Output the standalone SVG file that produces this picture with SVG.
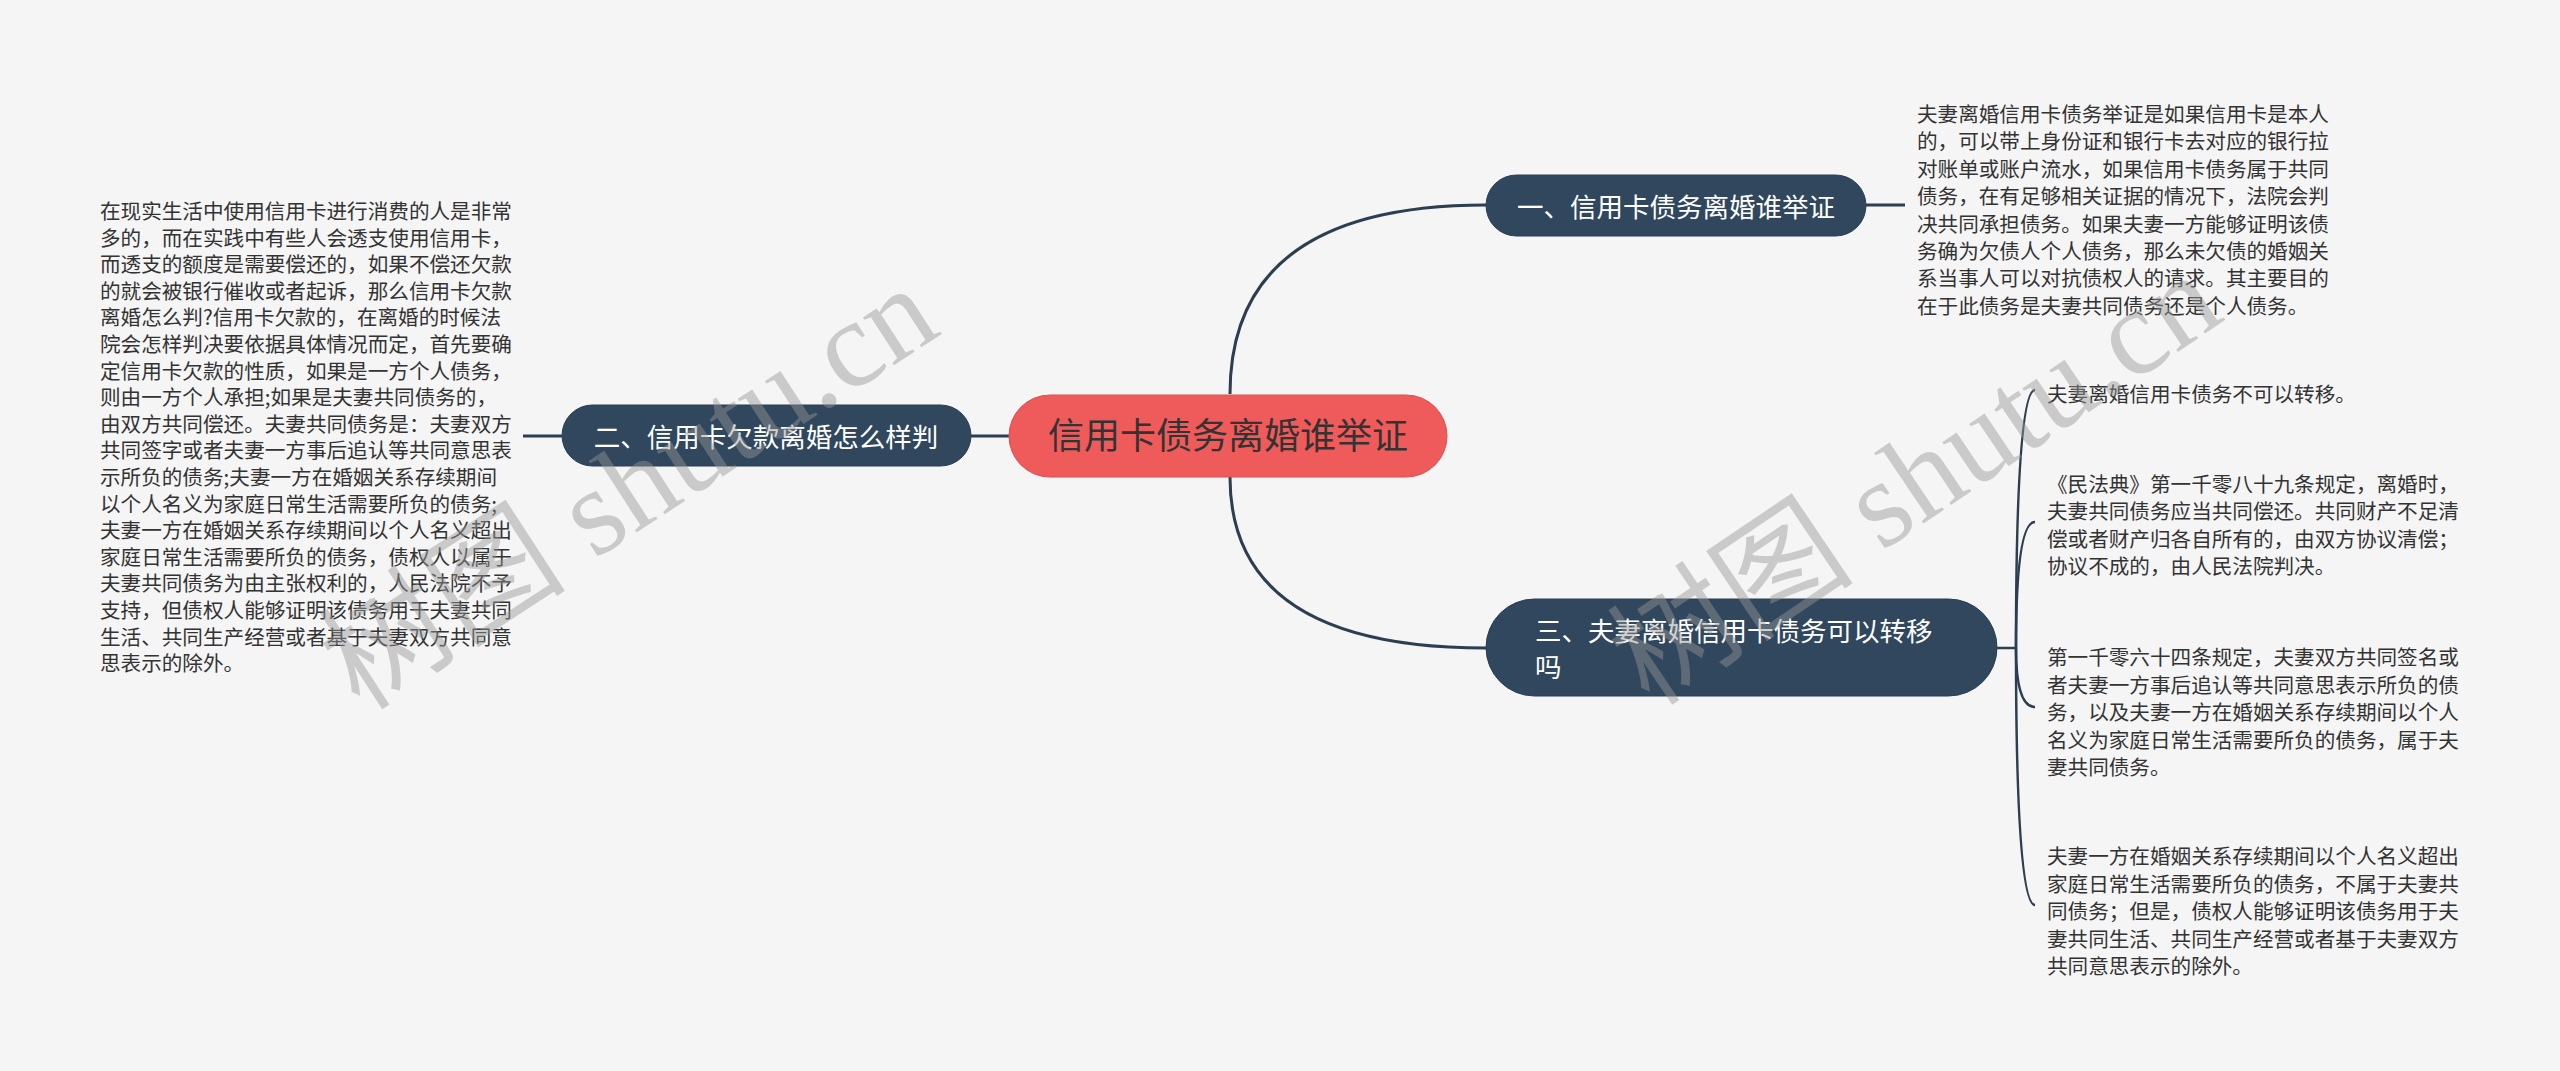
<svg xmlns="http://www.w3.org/2000/svg" width="2560" height="1071" viewBox="0 0 2560 1071">
<style>
.bg{fill:#f5f5f5}
.link{fill:none;stroke:#2c3e50;stroke-width:3}
.sub{fill:none;stroke:#2c3e50;stroke-width:2.5}
.node{fill:#30475e;stroke:#2a3d52;stroke-width:1}
.root{fill:#ef5a5a;stroke:#e04e4e;stroke-width:1}
.nt{font-family:"Noto Sans CJK SC",sans-serif;font-size:26.5px;fill:#ffffff}
.rt{font-family:"Noto Sans CJK SC",sans-serif;font-size:36px;fill:#333333}
.body{font-family:"Noto Sans CJK SC",sans-serif;font-size:20.6px;fill:#333333}
.wm{font-family:"Liberation Serif","Noto Sans CJK SC",serif;font-size:124px;fill:#969696;fill-opacity:0.45}
</style>
<rect class="bg" x="0" y="0" width="2560" height="1071"/>
<g id="connectors">
<path class="link" d="M1230,394 Q1230,205 1486,205"/>
<path class="link" d="M1230,477 Q1230,648 1486,648"/>
<path class="link" d="M971,436 L1009,436"/>
<path class="link" d="M523,436 L562,436"/>
<path class="link" d="M1866,205 L1905,205"/>
<path class="sub" d="M1997,648 L2016,648"/>
<path class="sub" d="M2016,648 Q2016,390 2035,390"/>
<path class="sub" d="M2016,648 Q2016,522 2035,522"/>
<path class="sub" d="M2016,648 Q2016,707 2035,707"/>
<path class="sub" d="M2016,648 Q2016,905 2035,905"/>
</g>
<g id="root">
<rect class="root" x="1009" y="395" width="438" height="82" rx="41"/>
<text class="rt" x="1228" y="449" text-anchor="middle">信用卡债务离婚谁举证</text>
</g>
<g id="node1">
<rect class="node" x="1486" y="175" width="380" height="61" rx="30.5"/>
<text class="nt" x="1676" y="216.5" text-anchor="middle">一、信用卡债务离婚谁举证</text>
</g>
<g id="node1-text">
<text class="body" x="1917" y="122">
<tspan x="1917" y="122">夫妻离婚信用卡债务举证是如果信用卡是本人</tspan>
<tspan x="1917" dy="27.4">的，可以带上身份证和银行卡去对应的银行拉</tspan>
<tspan x="1917" dy="27.4">对账单或账户流水，如果信用卡债务属于共同</tspan>
<tspan x="1917" dy="27.4">债务，在有足够相关证据的情况下，法院会判</tspan>
<tspan x="1917" dy="27.4">决共同承担债务。如果夫妻一方能够证明该债</tspan>
<tspan x="1917" dy="27.4">务确为欠债人个人债务，那么未欠债的婚姻关</tspan>
<tspan x="1917" dy="27.4">系当事人可以对抗债权人的请求。其主要目的</tspan>
<tspan x="1917" dy="27.4">在于此债务是夫妻共同债务还是个人债务。</tspan>
</text>
</g>
<g id="node2">
<rect class="node" x="562" y="405" width="409" height="61" rx="30.5"/>
<text class="nt" x="766" y="447" text-anchor="middle">二、信用卡欠款离婚怎么样判</text>
</g>
<g id="node2-text">
<text class="body">
<tspan x="100" y="219">在现实生活中使用信用卡进行消费的人是非常</tspan>
<tspan x="100" dy="26.6">多的，而在实践中有些人会透支使用信用卡，</tspan>
<tspan x="100" dy="26.6">而透支的额度是需要偿还的，如果不偿还欠款</tspan>
<tspan x="100" dy="26.6">的就会被银行催收或者起诉，那么信用卡欠款</tspan>
<tspan x="100" dy="26.6">离婚怎么判?信用卡欠款的，在离婚的时候法</tspan>
<tspan x="100" dy="26.6">院会怎样判决要依据具体情况而定，首先要确</tspan>
<tspan x="100" dy="26.6">定信用卡欠款的性质，如果是一方个人债务，</tspan>
<tspan x="100" dy="26.6">则由一方个人承担;如果是夫妻共同债务的，</tspan>
<tspan x="100" dy="26.6">由双方共同偿还。夫妻共同债务是：夫妻双方</tspan>
<tspan x="100" dy="26.6">共同签字或者夫妻一方事后追认等共同意思表</tspan>
<tspan x="100" dy="26.6">示所负的债务;夫妻一方在婚姻关系存续期间</tspan>
<tspan x="100" dy="26.6">以个人名义为家庭日常生活需要所负的债务;</tspan>
<tspan x="100" dy="26.6">夫妻一方在婚姻关系存续期间以个人名义超出</tspan>
<tspan x="100" dy="26.6">家庭日常生活需要所负的债务，债权人以属于</tspan>
<tspan x="100" dy="26.6">夫妻共同债务为由主张权利的，人民法院不予</tspan>
<tspan x="100" dy="26.6">支持，但债权人能够证明该债务用于夫妻共同</tspan>
<tspan x="100" dy="26.6">生活、共同生产经营或者基于夫妻双方共同意</tspan>
<tspan x="100" dy="26.6">思表示的除外。</tspan>
</text>
</g>
<g id="node3">
<rect class="node" x="1486" y="599" width="511" height="97" rx="48.5"/>
<text class="nt"><tspan x="1535" y="641">三、夫妻离婚信用卡债务可以转移</tspan><tspan x="1535" y="677">吗</tspan></text>
</g>
<g id="node3-item1">
<text class="body" x="2047" y="402">夫妻离婚信用卡债务不可以转移。</text>
</g>
<g id="node3-item2">
<text class="body">
<tspan x="2047" y="492">《民法典》第一千零八十九条规定，离婚时，</tspan>
<tspan x="2047" dy="27.4">夫妻共同债务应当共同偿还。共同财产不足清</tspan>
<tspan x="2047" dy="27.4">偿或者财产归各自所有的，由双方协议清偿；</tspan>
<tspan x="2047" dy="27.4">协议不成的，由人民法院判决。</tspan>
</text>
</g>
<g id="node3-item3">
<text class="body">
<tspan x="2047" y="665">第一千零六十四条规定，夫妻双方共同签名或</tspan>
<tspan x="2047" dy="27.6">者夫妻一方事后追认等共同意思表示所负的债</tspan>
<tspan x="2047" dy="27.6">务，以及夫妻一方在婚姻关系存续期间以个人</tspan>
<tspan x="2047" dy="27.6">名义为家庭日常生活需要所负的债务，属于夫</tspan>
<tspan x="2047" dy="27.6">妻共同债务。</tspan>
</text>
</g>
<g id="node3-item4">
<text class="body">
<tspan x="2047" y="864">夫妻一方在婚姻关系存续期间以个人名义超出</tspan>
<tspan x="2047" dy="27.5">家庭日常生活需要所负的债务，不属于夫妻共</tspan>
<tspan x="2047" dy="27.5">同债务；但是，债权人能够证明该债务用于夫</tspan>
<tspan x="2047" dy="27.5">妻共同生活、共同生产经营或者基于夫妻双方</tspan>
<tspan x="2047" dy="27.5">共同意思表示的除外。</tspan>
</text>
</g>
<g id="watermarks">
<text class="wm" transform="translate(360,712) rotate(-33)">树图 shutu.cn</text>
<text class="wm" transform="translate(1650,708) rotate(-34)">树图 shutu.cn</text>
</g>
</svg>
